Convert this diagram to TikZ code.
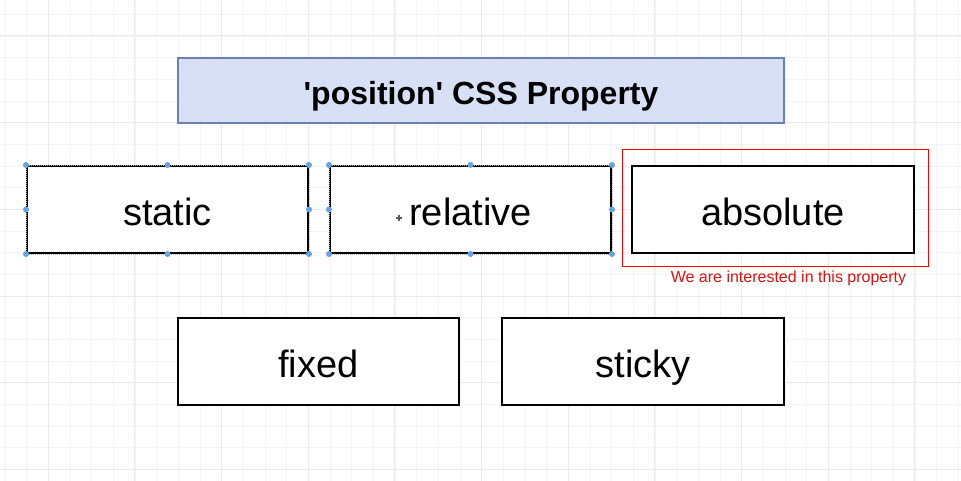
\documentclass[tikz,border=0pt]{standalone}
\usepackage{fontspec}
\setmainfont{Liberation Sans}
\usepackage{tikz}
\usetikzlibrary{positioning}
\definecolor{gridminor}{RGB}{244,244,244}
\definecolor{gridmajor}{RGB}{234,234,234}
\definecolor{titlefill}{RGB}{215,224,245}
\definecolor{titleline}{RGB}{108,128,180}
\definecolor{handleblue}{RGB}{102,163,224}
\definecolor{notered}{RGB}{226,16,16}
\tikzstyle{box}=[rectangle, draw=black, line width=2pt, fill=white, inner sep=0pt, minimum width=281pt, minimum height=87pt, text height=32pt, text depth=0pt, font=\fontsize{38}{44}\selectfont]
\tikzstyle{picked}=[box, draw=black]
\tikzstyle{handle}=[fill=handleblue]
\tikzstyle{titlebox}=[rectangle, draw=titleline, line width=2pt, fill=titlefill, inner sep=0pt, minimum width=606pt, minimum height=65pt, text height=29pt, text depth=0pt, font=\fontsize{32}{38}\selectfont\bfseries]

\begin{document}
\begin{tikzpicture}[x=1pt, y=1pt, yscale=-1]
	\useasboundingbox (0,0) rectangle (961,481);
	\fill[white] (0,0) rectangle (961,481);
	% grid
	\foreach \k in {0,...,44}{
		\draw[gridminor, line width=1pt] (5 + \k*21.667, 0) -- (5 + \k*21.667, 481);
	}
	\foreach \k in {0,...,22}{
		\draw[gridminor, line width=1pt] (0, 14.4 + \k*21.667) -- (961, 14.4 + \k*21.667);
	}
	\foreach \k in {0,...,10}{
		\draw[gridmajor, line width=1pt] (48.3 + \k*86.667, 0) -- (48.3 + \k*86.667, 481);
	}
	\foreach \k in {0,...,5}{
		\draw[gridmajor, line width=1pt] (0, 36 + \k*86.667) -- (961, 36 + \k*86.667);
	}

	\node[titlebox] (title) at (481,90.5) {\textquotesingle position\textquotesingle{} CSS Property};

	\node[picked] (static) at (167.5,209.5) {static};
	\node[picked] (relative) at (470.5,209.5) {relative};
	\node[box, minimum width=282pt] (absolute) at (773,209.5) {absolute};
	\node[box] (fixed) at (318.5,361.5) {fixed};
	\node[box, minimum width=282pt] (sticky) at (643,361.5) {sticky};

	% selection
	\foreach \n in {static, relative}{
		\draw[gray!60, line width=0.7pt, dash pattern=on 1pt off 1pt] (\n.north west) rectangle (\n.south east);
		\foreach \a in {north west, north, north east, west, east, south west, south, south east}{
			\fill[handle] (\n.\a) circle (3pt);
		}
	}
	\draw[gray!70!black, line width=1.2pt] (396,218) -- (402,218) (399,215) -- (399,221);

	\node[draw=red, line width=1pt, inner sep=0pt, minimum width=306pt, minimum height=116pt] (focus) at (775,208) {};
	\node[notered, font=\fontsize{16}{19}\selectfont] (note) at (788.5,278) {We are interested in this property};
\end{tikzpicture}
\end{document}
